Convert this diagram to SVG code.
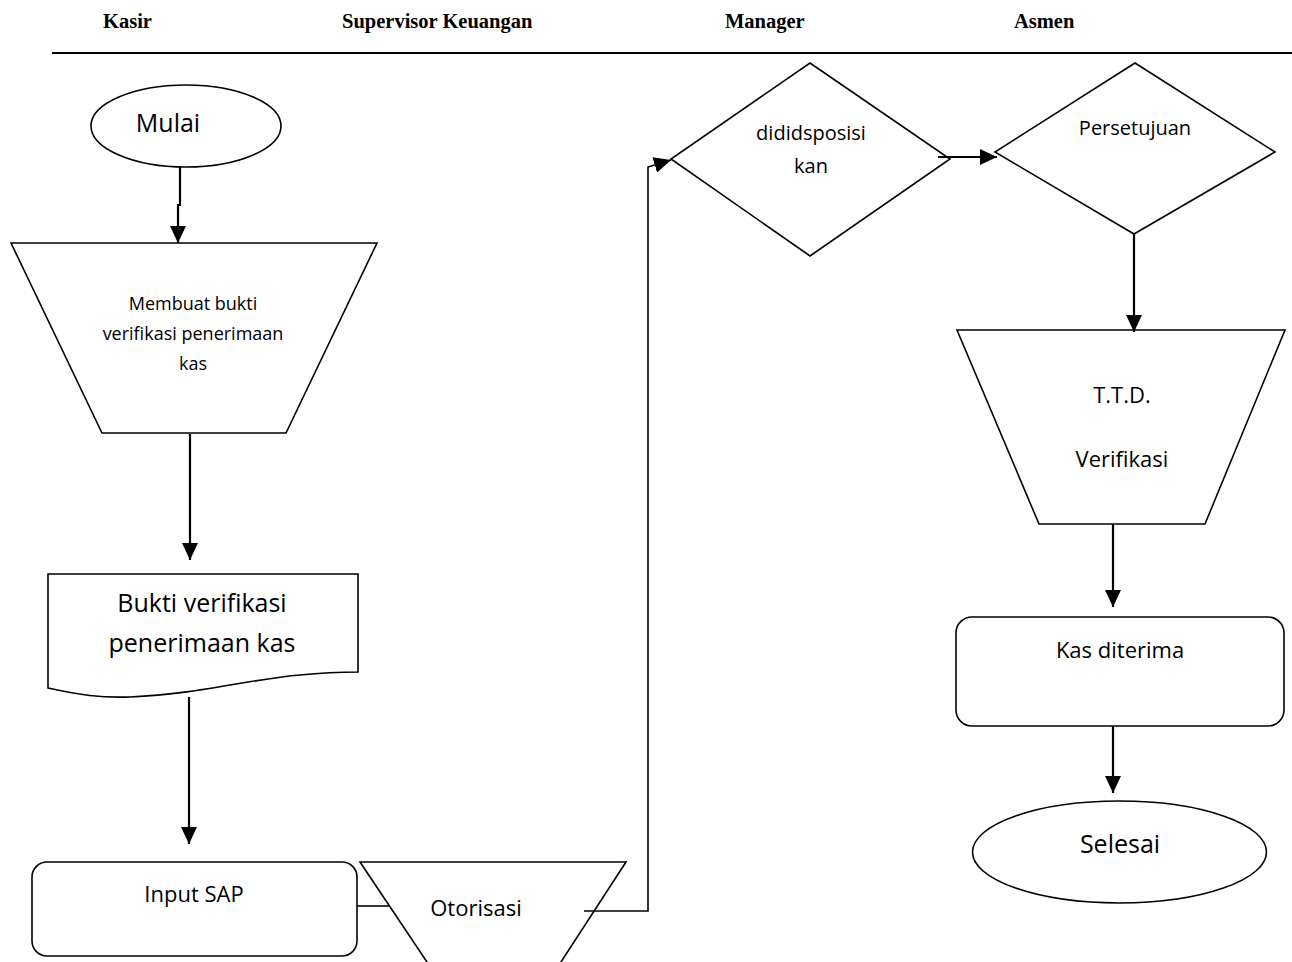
<svg xmlns="http://www.w3.org/2000/svg" width="1292" height="962" viewBox="0 0 1292 962">
  <style>
    .shape { fill: #fff; stroke: #000; stroke-width: 1.6; }
    .lane { font-family: "Liberation Serif", "Times New Roman", serif; font-weight: bold; font-size: 20.5px; fill: #000; }
    .lbl { font-family: "Open Sans", "Noto Sans", sans-serif; fill: #000; text-anchor: middle; }
    .flow { fill: none; stroke: #000; stroke-width: 2.2; }
    .thin { fill: none; stroke: #000; stroke-width: 1.6; }
  </style>
  <defs>
    <marker id="arrow" viewBox="0 0 17 16" refX="17" refY="8" markerWidth="17" markerHeight="16" markerUnits="userSpaceOnUse" orient="auto">
      <path d="M0,0 L17,8 L0,16 z" fill="#000"/>
    </marker>
  </defs>

  <rect width="1292" height="962" fill="#fff"/>

  <!-- swimlane headings -->
  <g id="header">
    <text class="lane" x="103" y="28">Kasir</text>
    <text class="lane" x="342" y="28">Supervisor Keuangan</text>
    <text class="lane" x="725" y="28">Manager</text>
    <text class="lane" x="1014" y="28">Asmen</text>
    <line x1="52" y1="53" x2="1292" y2="53" stroke="#000" stroke-width="2.2"/>
  </g>

  <g id="mulai">
    <ellipse class="shape" cx="186" cy="126" rx="95" ry="41"/>
    <text class="lbl" x="168" y="132" font-size="25">Mulai</text>
  </g>

  <g id="membuat-bukti">
    <polygon class="shape" points="11,243 377,243 286,433 102,433"/>
    <text class="lbl" x="193" y="310" font-size="18">Membuat bukti</text>
    <text class="lbl" x="193" y="340" font-size="18">verifikasi penerimaan</text>
    <text class="lbl" x="193" y="370" font-size="18">kas</text>
  </g>

  <g id="bukti-verifikasi">
    <path class="shape" d="M48,574 H358 V672 C340,672 320,673 300,675 C250,679 200,694 130,697 C100,698 80,695 48,688 Z"/>
    <text class="lbl" x="202" y="612" font-size="25">Bukti verifikasi</text>
    <text class="lbl" x="202" y="652" font-size="25">penerimaan kas</text>
  </g>

  <g id="input-sap">
    <rect class="shape" x="32" y="862" width="325" height="94" rx="15"/>
    <text class="lbl" x="194" y="902" font-size="22">Input SAP</text>
  </g>

  <g id="otorisasi">
    <polygon class="shape" points="360,862 626,862 559,965 429,965"/>
    <text class="lbl" x="476" y="916" font-size="22">Otorisasi</text>
  </g>

  <g id="didisposisi">
    <polygon class="shape" points="810,63 950,159 810,256 671,159"/>
    <text class="lbl" x="811" y="140" font-size="20">dididsposisi</text>
    <text class="lbl" x="811" y="173" font-size="20">kan</text>
  </g>

  <g id="persetujuan">
    <polygon class="shape" points="1135,63 1275,152 1134,234 995,152"/>
    <text class="lbl" x="1135" y="135" font-size="20">Persetujuan</text>
  </g>

  <g id="ttd-verifikasi">
    <polygon class="shape" points="957,330 1285,330 1205,524 1039,524"/>
    <text class="lbl" x="1122" y="403" font-size="22">T.T.D.</text>
    <text class="lbl" x="1122" y="467" font-size="22">Verifikasi</text>
  </g>

  <g id="kas-diterima">
    <rect class="shape" x="956" y="617" width="328" height="109" rx="16"/>
    <text class="lbl" x="1120" y="658" font-size="22">Kas diterima</text>
  </g>

  <g id="selesai">
    <ellipse class="shape" cx="1119.5" cy="852" rx="147" ry="51"/>
    <text class="lbl" x="1120" y="853" font-size="25">Selesai</text>
  </g>

  <!-- connectors, drawn over the shapes so their ends show inside them -->
  <g id="connectors">
    <path class="flow" d="M180,167 V205 H178 V243" marker-end="url(#arrow)"/>
    <path class="flow" d="M190,434 V560" marker-end="url(#arrow)"/>
    <path class="flow" d="M189,697 V844" marker-end="url(#arrow)"/>
    <path class="thin" d="M357,906 H389"/>
    <path class="thin" d="M584,911 H648 V167 L671,160" marker-end="url(#arrow)"/>
    <path class="flow" d="M938,157 H997" marker-end="url(#arrow)"/>
    <path class="flow" d="M1134,234 V332" marker-end="url(#arrow)"/>
    <path class="flow" d="M1113,524 V607" marker-end="url(#arrow)"/>
    <path class="flow" d="M1113,726 V793" marker-end="url(#arrow)"/>
  </g>
</svg>
